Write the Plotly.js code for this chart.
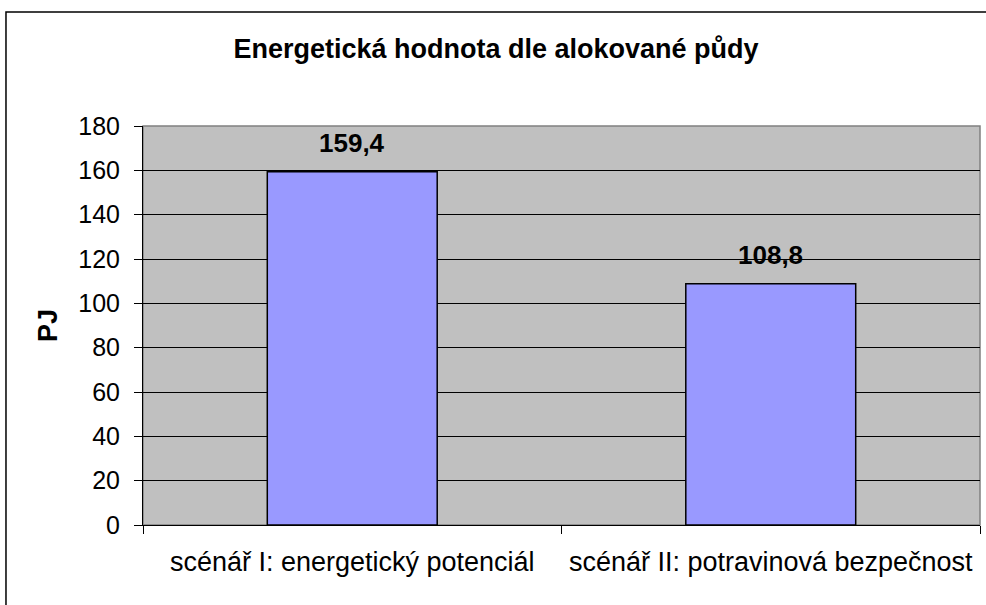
<!DOCTYPE html>
<html><head><meta charset="utf-8">
<script src="https://cdn.plot.ly/plotly-3.0.1.min.js"></script>
<style>html,body{margin:0;padding:0;background:#fff;}#chart{width:986px;height:605px;}</style>
</head><body><div id="chart"></div>
<script>
const categories = ["scénář I: energetický potenciál", "scénář II: potravinová bezpečnost"];
const values = [159.4, 108.8];
const yTicks = [0, 20, 40, 60, 80, 100, 120, 140, 160, 180];
const titleText = "Energetická hodnota dle alokované půdy";
const yTitle = "PJ";

const FONT = "Liberation Sans, Arial, sans-serif";
const trace = {
  type: "bar", x: categories, y: values, width: 0.406,
  marker: {color: "#9999FF", line: {color: "#000000", width: 1.5}},
  hoverinfo: "none"
};
const annotations = categories.map((c, i) => ({
  x: c, y: values[i], xref: "x", yref: "y",
  text: "<b>" + values[i].toFixed(1).replace(".", ",") + "</b>",
  showarrow: false, yanchor: "middle", yshift: 29,
  font: {family: FONT, size: 26, color: "#000"}
}));

const layout = {
  width: 986, height: 605,
  margin: {l: 143, r: 6, t: 126, b: 80},
  paper_bgcolor: "#ffffff", plot_bgcolor: "#C0C0C0",
  showlegend: false,
  separators: ",.",
  title: {text: "<b>" + titleText + "</b>", x: 0.503, xanchor: "center", y: 0.92, yanchor: "middle", yref: "container",
          font: {family: FONT, size: 27, color: "#000"}},
  xaxis: {type: "category", tickson: "boundaries", ticks: "outside", ticklen: 8, tickcolor: "#000",
          showline: true, linecolor: "#000", linewidth: 1, showgrid: false,
          tickfont: {family: FONT, size: 27, color: "#000"}, ticklabelstandoff: 13, fixedrange: true},
  yaxis: {range: [0, 180], tickvals: yTicks, ticks: "outside", ticklen: 8, tickcolor: "#000",
          showline: true, linecolor: "#000", linewidth: 1, showgrid: true, gridcolor: "#000", gridwidth: 1,
          zeroline: false,
          tickfont: {family: FONT, size: 25, color: "#000"}, ticklabelstandoff: 9,
          title: {text: "<b>" + yTitle + "</b>", standoff: 12, font: {family: FONT, size: 27, color: "#000"}},
          fixedrange: true},
  annotations: annotations,
  shapes: [
    {type: "rect", xref: "paper", yref: "paper", x0: 0, x1: 1, y0: 0, y1: 1,
     line: {color: "#808080", width: 1.5}, layer: "below"},
    {type: "rect", xref: "paper", yref: "paper", x0: -0.1637, x1: 1.05, y0: -0.25, y1: 1.2857,
     line: {color: "#000", width: 1.5}, fillcolor: "rgba(0,0,0,0)"}
  ]
};
Plotly.newPlot("chart", [trace], layout, {displayModeBar: false, staticPlot: true});
</script></body></html>
